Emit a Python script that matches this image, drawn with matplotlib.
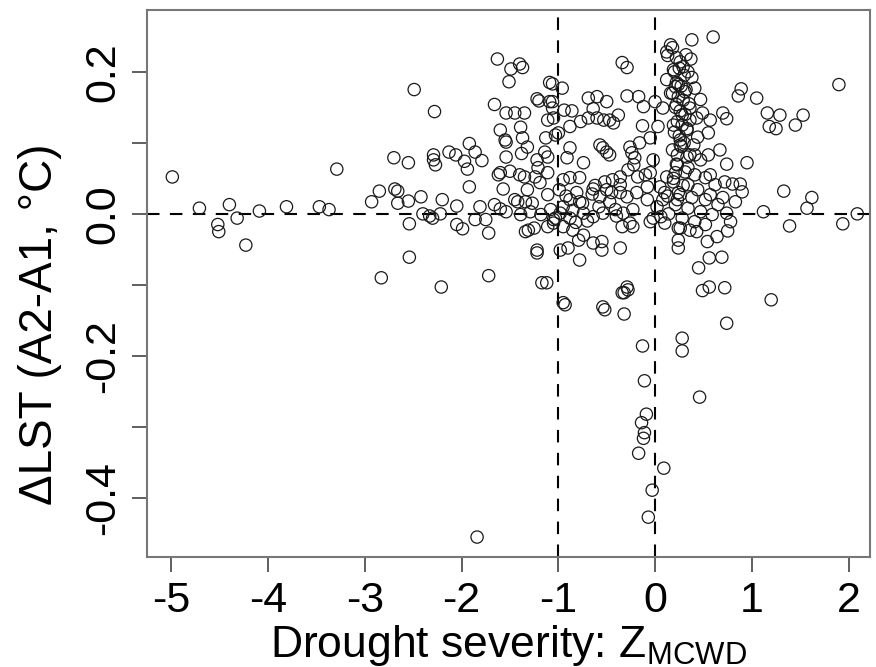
import matplotlib
matplotlib.use('Agg')
import matplotlib.pyplot as plt

plt.rcParams['font.family'] = ['Liberation Sans', 'DejaVu Sans']
plt.rcParams['mathtext.fontset'] = 'custom'
plt.rcParams['mathtext.rm'] = 'Liberation Sans'

# drought severity (Z_MCWD) and delta LST
z_mcwd = [
    -4.99, -4.71, -4.52, -4.51, -4.40, -4.32, -4.23, -4.09, -3.81, -3.47,
    -3.37, -3.29, -2.93, -2.85, -2.83, -2.70, -2.69, -2.66, -2.66, -2.55,
    -2.55, -2.54, -2.54, -2.49, -2.42, -2.40, -2.33, -2.30, -2.28, -2.29,
    -2.29, -2.27, -2.22, -2.21, -2.20, -2.13, -2.06, -2.05, -2.05, -1.99,
    -1.97, -1.94, -1.92, -1.92, -1.86, -1.86, -1.84, -1.81, -1.79, -1.75,
    -1.72, -1.72, -1.66, -1.66, -1.63, -1.62, -1.60, -1.60, -1.60, -1.57,
    -1.55, -1.54, -1.54, -1.54, -1.54, -1.51, -1.50, -1.49, -1.45, -1.45,
    -1.42, -1.40, -1.40, -1.39, -1.38, -1.37, -1.37, -1.35, -1.35, -1.34,
    -1.34, -1.32, -1.32, -1.31, -1.27, -1.25, -1.24, -1.22, -1.22, -1.22,
    -1.22, -1.20, -1.21, -1.19, -1.17, -1.14, -1.13, -1.12, -1.11, -1.11,
    -1.11, -1.11, -1.11, -1.09, -1.09, -1.06, -1.05, -1.00, -1.29, -1.18,
    -1.08, -1.03, -1.39,
    -0.96, -0.94, -0.86, -1.06, -1.06, -1.05, -0.88, -1.03, -0.88, -0.91,
    -0.77, -0.74, -0.69, -0.64, -0.60, -0.60, -0.69, -0.57, -0.54, -0.50,
    -0.47, -0.50, -0.47, -0.43, -0.53, -0.38, -0.34, -0.29, -0.29, -0.26,
    -0.24, -0.21, -0.17, -0.16, -0.12, -0.13, -0.05, 0.00, 0.03, -0.02,
    -0.36, -0.18, -0.64, -0.36, -0.78, -0.88, -0.78, -0.95, -0.99, -0.88,
    -0.81, -0.57, -0.50, -0.47, -0.29, -0.19, -0.08, -0.08, -0.23, -0.33,
    -0.41, -0.54, -0.64, -0.74, -0.88, -0.98, -1.05, -0.95, -0.85, -0.74,
    -0.79, -0.64, -0.55, -0.55, -0.36, -0.98, -0.90, -0.78, -0.29, -0.34,
    -0.95, -0.54, -0.26, -0.23, -0.34, -0.05, 0.10, -0.02, 0.24, 0.23,
    0.08, 0.05, 0.12, 0.21, -0.05,
    -0.28, -0.22, -0.10, -0.44, -0.36,
    -0.93, -0.52, -0.32, -0.32, -0.28, -0.13, -0.11, -0.09, -0.14, -0.11,
    -0.12, -0.17, 0.09, -0.03, -0.07, 0.28, 0.28, 0.46, 0.74, 1.20,
    0.12, 0.13, 0.38, 0.60, 0.18, 0.37, 1.90, 0.89, 0.86, 1.05,
    1.16, 1.29, 1.53, 1.18, 1.25, 1.45, 0.70, 0.74, 0.49, 0.57,
    0.55, 0.44, 0.36, 0.74, 0.95, 0.41, 0.33, 0.23, 0.26, 0.19,
    0.21, 0.16, 0.12, 0.08, 1.33, 1.62, 1.57, 1.39, 1.12, 2.09,
    1.94, 0.72, 0.80, 0.88, 0.90, 0.70, 0.83, 0.74, 0.78, 0.75,
    0.64, 0.54, 0.24, 0.69, 0.56, 0.45, 0.56, 0.49, 0.72, 0.43,
    0.26,
    0.29, 0.34, 0.38, 0.24, 0.41, 0.31, 0.47, 0.22, 0.36, 0.28,
    0.43, 0.19, 0.33, 0.26, 0.40, 0.18, 0.36, 0.47, 0.23, 0.31,
    0.41, 0.52, 0.19, 0.34, 0.44, 0.26, 0.38, 0.52, 0.21, 0.34,
    0.47, 0.59, 0.28, 0.41, 0.13, 0.62, 0.57, 0.65, 0.52, 0.36,
    0.24, 0.57, 0.67, 0.55, 0.22, 0.26, 0.32, 0.16,
    0.20, 0.25, 0.30, 0.22, 0.27, 0.32, 0.18, 0.24, 0.29, 0.35,
    0.21, 0.26, 0.31, 0.23, 0.28, 0.33, 0.20, 0.25, 0.30, 0.27,
    0.22, 0.34, 0.19, 0.29, 0.24,
    -0.95, -0.85, -0.75, -0.65, -0.58, -0.45, -0.40, -0.70, -0.62, -0.52,
    -0.92, -0.82, 0.02, 0.06, 0.10, 0.14,
]
dlst = [
    0.052, 0.008, -0.015, -0.025, 0.013, -0.006, -0.044, 0.004, 0.010, 0.010,
    0.006, 0.063, 0.017, 0.032, -0.090, 0.079, 0.035, 0.032, 0.015, 0.072,
    0.018, -0.014, -0.061, 0.175, 0.024, 0.000, -0.003, -0.006, 0.144, 0.083,
    0.076, 0.069, 0.000, -0.103, 0.020, 0.087, 0.083, 0.011, -0.015, -0.021,
    0.074, 0.063, 0.099, 0.038, 0.087, -0.008, -0.455, 0.010, 0.075, -0.008,
    -0.087, -0.027, 0.154, 0.013, 0.218, 0.055, 0.118, 0.058, 0.007, 0.035,
    0.104, 0.101, 0.142, 0.080, 0.003, 0.186, 0.060, 0.204, 0.142, 0.020,
    0.017, 0.211, 0.055, 0.122, 0.085, 0.206, 0.107, 0.142, 0.052, 0.017,
    -0.025, 0.094, 0.034, -0.023, 0.015, -0.020, 0.052, 0.162, 0.076, -0.051,
    -0.055, 0.159, 0.065, 0.044, -0.097, 0.087, 0.107, -0.097, 0.132, 0.080,
    0.058, 0.027, -0.018, 0.185, 0.158, 0.149, -0.013, 0.114, 0.003, -0.001,
    0.006, -0.006, -0.001,
    0.177, 0.146, 0.145, 0.183, 0.158, 0.135, 0.123, 0.111, 0.093, 0.079,
    0.130, 0.072, 0.163, 0.148, 0.165, 0.135, 0.135, 0.097, 0.093, 0.087,
    0.083, 0.158, 0.132, 0.128, 0.132, 0.139, 0.213, 0.206, 0.166, 0.094,
    0.086, 0.079, 0.165, 0.100, 0.151, 0.124, 0.107, 0.158, 0.123, 0.076,
    0.052, 0.052, 0.035, 0.030, 0.017, 0.051, 0.051, 0.048, 0.034, 0.020,
    0.030, 0.024, 0.034, 0.017, 0.024, 0.030, 0.038, 0.020, 0.006, 0.001,
    0.006, 0.001, -0.004, 0.001, -0.006, 0.001, -0.008, -0.018, -0.023, -0.030,
    -0.037, -0.041, -0.039, -0.051, -0.048, -0.051, -0.048, -0.065, -0.103, -0.111,
    -0.125, -0.131, -0.013, -0.018, -0.018, -0.011, -0.013, -0.006, -0.020, 0.020,
    0.020, 0.038, 0.052, 0.058, 0.058,
    0.062, 0.069, 0.055, 0.048, 0.041,
    -0.128, -0.135, -0.141, -0.111, -0.107, -0.186, -0.235, -0.282, -0.294, -0.308,
    -0.316, -0.337, -0.358, -0.389, -0.427, -0.175, -0.193, -0.258, -0.154, -0.121,
    0.228, 0.223, 0.245, 0.249, 0.234, 0.218, 0.182, 0.176, 0.166, 0.163,
    0.142, 0.139, 0.139, 0.123, 0.120, 0.125, 0.142, 0.134, 0.142, 0.132,
    0.114, 0.108, 0.132, 0.070, 0.072, 0.083, 0.080, 0.083, 0.097, 0.203,
    0.179, 0.170, 0.189, 0.149, 0.032, 0.023, 0.008, -0.017, 0.003, 0.000,
    -0.014, 0.045, 0.042, 0.042, 0.031, 0.023, 0.017, 0.001, -0.011, -0.024,
    -0.032, -0.039, -0.048, -0.061, -0.062, -0.076, -0.103, -0.108, -0.104, -0.025,
    -0.020,
    0.207, 0.200, 0.192, 0.182, 0.177, 0.172, 0.161, 0.154, 0.149, 0.139,
    0.135, 0.125, 0.118, 0.104, 0.097, 0.090, 0.083, 0.076, 0.069, 0.059,
    0.055, 0.051, 0.045, 0.041, 0.034, 0.027, 0.023, 0.020, 0.013, 0.008,
    0.003, -0.001, -0.006, -0.011, 0.025, 0.041, 0.027, 0.013, -0.015, -0.023,
    -0.037, 0.055, 0.090, 0.083, 0.220, 0.214, 0.224, 0.238,
    0.200, 0.205, 0.195, 0.185, 0.180, 0.175, 0.170, 0.165, 0.160, 0.155,
    0.150, 0.145, 0.140, 0.130, 0.125, 0.120, 0.115, 0.110, 0.100, 0.095,
    0.070, 0.065, 0.050, 0.040, 0.030,
    0.010, 0.005, 0.015, 0.028, 0.010, 0.030, -0.003, -0.010, 0.040, 0.045,
    0.025, -0.012, 0.010, -0.004, 0.030, 0.000,
]

xticks = [-5, -4, -3, -2, -1, 0, 1, 2]
yticks = [-0.4, -0.3, -0.2, -0.1, 0.0, 0.1, 0.2]
ytick_labels = ['-0.4', '', '-0.2', '', '0.0', '', '0.2']

fig = plt.figure(figsize=(8.76, 6.67), dpi=100)
ax = fig.add_axes([0.168, 0.165, 0.825, 0.82])

ax.scatter(z_mcwd, dlst, s=78, facecolors='none', edgecolors='#1a1a1a', linewidths=0.9, zorder=3)
ax.axhline(0, color='black', lw=1.5, ls=(0, (6, 5)), zorder=2)
ax.axvline(0, color='black', lw=1.5, ls=(0, (6, 5)), zorder=2)
ax.axvline(-1, color='black', lw=1.5, ls=(0, (6, 5)), zorder=2)

ax.set_xlim(-5.25, 2.22)
ax.set_ylim(-0.483, 0.287)
ax.set_xticks(xticks)
ax.set_xticklabels([str(t) for t in xticks])
ax.set_yticks(yticks)
ax.set_yticklabels(ytick_labels, rotation=90, va='center')

ax.tick_params(direction='out', length=11, width=1.2, color='#444444', labelsize=31, pad=6)
for s in ax.spines.values():
    s.set_color('#777777')
    s.set_linewidth(1.5)

ax.set_xlabel(r'Drought severity: Z$_\mathrm{MCWD}$', fontsize=32, labelpad=2)
ax.set_ylabel('ΔLST (A2-A1, °C)', fontsize=33)
ax.yaxis.set_label_coords(-0.118, 0.425)

fig.savefig('out.png', dpi=100)
